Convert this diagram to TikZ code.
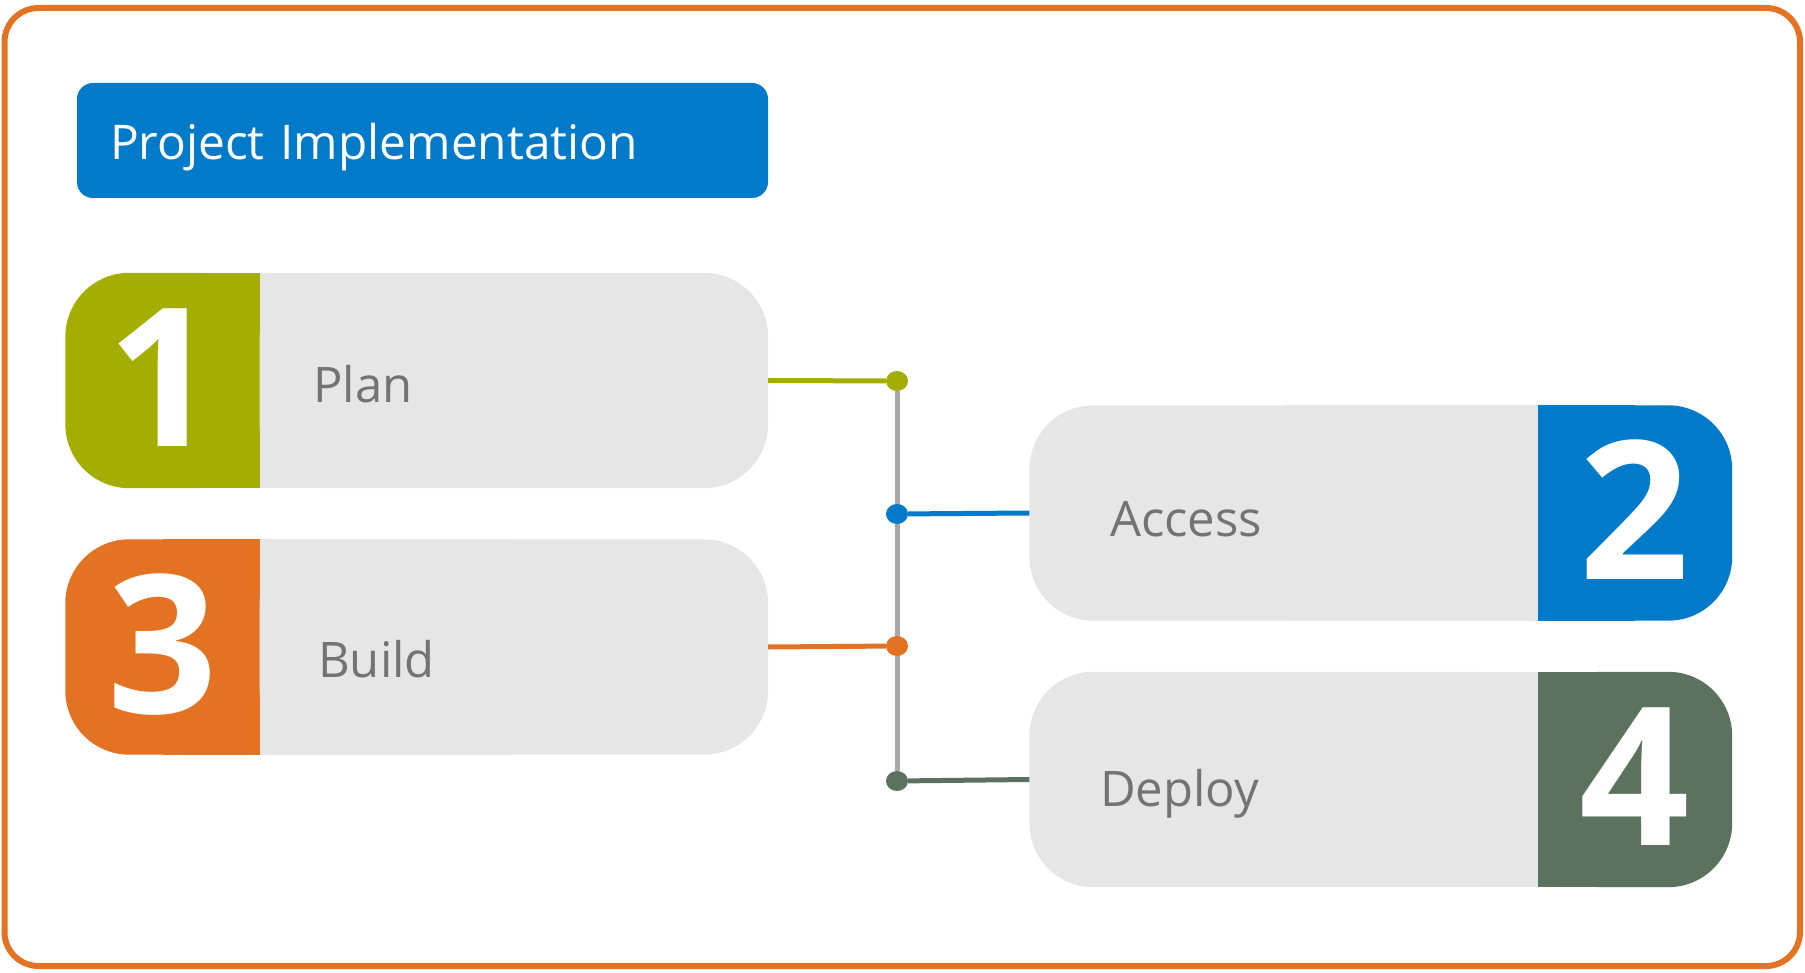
\documentclass[tikz,border=0pt]{standalone}
\usepackage{fontspec}
\setmainfont{Open Sans}
\usetikzlibrary{positioning,shapes.geometric,backgrounds}
\definecolor{framec}{HTML}{E37222}
\definecolor{titlec}{HTML}{007AC9}
\definecolor{planc}{HTML}{A4AE00}
\definecolor{accessc}{HTML}{007AC9}
\definecolor{buildc}{HTML}{E37222}
\definecolor{deployc}{HTML}{5A725E}
\definecolor{boxc}{HTML}{E6E6E6}
\definecolor{labelc}{HTML}{737373}
\definecolor{spinec}{HTML}{A6A6A6}
\tikzset{
  titlebox/.style={fill=titlec,rounded corners=16pt,minimum width=691pt,minimum height=115pt,
    inner xsep=33pt,inner ysep=0pt,text width=625pt,align=left,text=white,
    text height=39pt,text depth=0pt,font=\fontsize{47.8}{47.8}\selectfont},
  numbox/.style={minimum width=194pt,minimum height=215pt,inner sep=0pt,text=white,
    text height=138pt,text depth=6pt,font=\fontsize{193}{193}\selectfont\bfseries},
  stepbox/.style={minimum width=508pt,minimum height=215pt,inner sep=0pt},
  steplabel/.style={anchor=base west,inner sep=0pt,text=labelc,font=\fontsize{49}{49}\selectfont},
  stepdot/.style={ellipse,minimum width=22pt,minimum height=20pt,inner sep=0pt},
  link/.style={line width=5pt},
}
\begin{document}
\begin{tikzpicture}[x=1pt,y=-1pt]
  \useasboundingbox (0,0) rectangle (1805,973);
  \draw[framec,line width=6pt,rounded corners=34pt] (4.5,8) rectangle (1800,966);

  \node[titlebox] (title) at (422.5,140.5) {Project Implementation};

  % numbered tabs
  \node[numbox] (n1) at (162.5,380.5) {1};
  \node[numbox] (n3) at (162.5,647)   {3};
  \node[numbox] (n2) at (1635,513)    {2};
  \node[numbox] (n4) at (1635,779.5)  {4};

  % step boxes
  \node[stepbox,right=0pt of n1] (plan)   {};
  \node[stepbox,right=0pt of n3] (build)  {};
  \node[stepbox,left=0pt of n2]  (access) {};
  \node[stepbox,left=0pt of n4]  (deploy) {};

  \node[steplabel] (plantxt)   at (313,403)  {Plan};
  \node[steplabel] (buildtxt)  at (318,677)  {Build};
  \node[steplabel] (accesstxt) at (1110,536) {Access};
  \node[steplabel] (deploytxt) at (1100,806) {Deploy};

  % junction dots
  \node[stepdot,fill=planc]   (d1) at (897,381) {};
  \node[stepdot,fill=accessc] (d2) at (897,514) {};
  \node[stepdot,fill=buildc]  (d3) at (897,646) {};
  \node[stepdot,fill=deployc] (d4) at (897,781) {};

  \begin{scope}[on background layer]
    \fill[planc,rounded corners=64pt] (n1.south west) rectangle (n1.north east);
    \fill[planc] (n1.south) rectangle (n1.north east);
    \fill[buildc,rounded corners=64pt] (n3.south west) rectangle (n3.north east);
    \fill[buildc] (n3.south) rectangle (n3.north east);
    \fill[accessc,rounded corners=64pt] (n2.south west) rectangle (n2.north east);
    \fill[accessc] (n2.south west) rectangle (n2.north);
    \fill[deployc,rounded corners=64pt] (n4.south west) rectangle (n4.north east);
    \fill[deployc] (n4.south west) rectangle (n4.north);

    \fill[boxc,rounded corners=64pt] (plan.south west) rectangle (plan.north east);
    \fill[boxc] (plan.south west) rectangle (plan.north);
    \fill[boxc,rounded corners=64pt] (build.south west) rectangle (build.north east);
    \fill[boxc] (build.south west) rectangle (build.north);
    \fill[boxc,rounded corners=64pt] (access.south west) rectangle (access.north east);
    \fill[boxc] (access.south) rectangle (access.north east);
    \fill[boxc,rounded corners=64pt] (deploy.south west) rectangle (deploy.north east);
    \fill[boxc] (deploy.south) rectangle (deploy.north east);

    \draw[link,spinec] (d1) -- (d4);
    \draw[link,planc] (plan.east) -- (d1);
    \draw[link,accessc] (d2) -- (access.west);
    \draw[link,buildc] (build.east) -- (d3);
    \draw[link,deployc] (d4) -- (deploy.west);
  \end{scope}
\end{tikzpicture}
\end{document}
